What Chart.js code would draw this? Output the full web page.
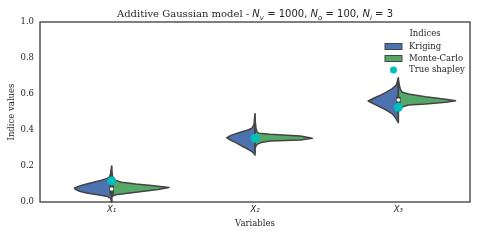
<!DOCTYPE html>
<html>
<head>
<meta charset="utf-8">
<script src="https://cdn.jsdelivr.net/npm/chart.js"></script>
<style>
  html, body { margin: 0; padding: 0; background: #fff; }
</style>
</head>
<body>
<canvas id="myChart" width="480" height="240"></canvas>
<script>
var variables = ['X₁', 'X₂', 'X₃'];
var trueShapley = [0.117, 0.354, 0.526];

// Kriging half violins (left side): index levels and density at each level
var krigingLevels = [
  [0.0, 0.02, 0.03, 0.04, 0.05, 0.06, 0.07, 0.078, 0.09, 0.10, 0.11, 0.12, 0.13, 0.14, 0.16, 0.2],
  [0.26, 0.27, 0.28, 0.29, 0.30, 0.31, 0.32, 0.33, 0.34, 0.35, 0.357, 0.37, 0.38, 0.39, 0.40, 0.41, 0.43, 0.49],
  [0.44, 0.45, 0.47, 0.49, 0.51, 0.53, 0.55, 0.561, 0.575, 0.59, 0.61, 0.63, 0.65, 0.67, 0.69]
];
var krigingDensity = [
  [0, 1, 4, 14, 25, 32, 36, 37, 31, 25, 18, 11, 5, 2, 1, 0],
  [0, 1, 3, 6, 9, 13, 16, 19, 23, 26, 28, 24, 19, 13, 7, 3, 1, 0],
  [0, 1, 3, 6, 12, 19, 26, 30, 25, 19, 12, 6, 2, 1, 0]
];

// Monte-Carlo half violins (right side)
var mcLevels = [
  [0.03, 0.04, 0.05, 0.06, 0.07, 0.081, 0.09, 0.10, 0.11, 0.12, 0.14, 0.17],
  [0.30, 0.31, 0.32, 0.33, 0.339, 0.342, 0.345, 0.354, 0.367, 0.376, 0.382, 0.39, 0.41, 0.46],
  [0.50, 0.515, 0.526, 0.539, 0.544, 0.554, 0.563, 0.571, 0.585, 0.60, 0.61, 0.625, 0.65, 0.68]
];
var mcDensity = [
  [0, 4, 18, 32, 46, 57, 42, 24, 10, 4, 1, 0],
  [0, 1, 2, 6, 15, 30, 45, 57, 45, 15, 4, 2, 1, 0],
  [0, 1, 3, 10, 27, 47, 57, 47, 27, 10, 4, 2, 1, 0]
];

// inner box
var whiskerLow = [0.0, 0.27, 0.446];
var whiskerHigh = [0.2, 0.49, 0.687];
var boxQ1 = [0.04, 0.34, 0.54];
var boxQ3 = [0.095, 0.372, 0.585];
var medians = [0.072, 0.355, 0.567];

var yTicks = [0, 0.2, 0.4, 0.6, 0.8, 1.0];

var blue = '#4C72B0', green = '#55A868', lineGray = '#444444', cyan = '#00BFBF', textCol = '#262626';

function halfViolin(ctx, xs, ys, i, levels, dens, side, color, maxD) {
  ctx.beginPath();
  ctx.moveTo(xs.getPixelForValue(i), ys.getPixelForValue(levels[0]));
  for (var k = 0; k < levels.length; k++) {
    ctx.lineTo(xs.getPixelForValue(i + side * dens[k] / maxD * 0.4), ys.getPixelForValue(levels[k]));
  }
  ctx.lineTo(xs.getPixelForValue(i), ys.getPixelForValue(levels[levels.length - 1]));
  ctx.closePath();
  ctx.fillStyle = color;
  ctx.fill();
  ctx.stroke();
}

var violinPlugin = {
  id: 'violins',
  beforeDatasetsDraw: function (chart) {
    var ctx = chart.ctx, xs = chart.scales.x, ys = chart.scales.y;
    var maxD = 0;
    krigingDensity.concat(mcDensity).forEach(function (a) { a.forEach(function (d) { if (d > maxD) maxD = d; }); });
    ctx.save();
    ctx.lineJoin = 'round';
    ctx.strokeStyle = lineGray;
    ctx.lineWidth = 1.5;
    for (var i = 0; i < variables.length; i++) {
      halfViolin(ctx, xs, ys, i, krigingLevels[i], krigingDensity[i], -1, blue, maxD);
      halfViolin(ctx, xs, ys, i, mcLevels[i], mcDensity[i], 1, green, maxD);
      var cx = xs.getPixelForValue(i);
      ctx.beginPath();
      ctx.lineWidth = 1.5;
      ctx.moveTo(cx, ys.getPixelForValue(whiskerLow[i]));
      ctx.lineTo(cx, ys.getPixelForValue(whiskerHigh[i]));
      ctx.stroke();
      ctx.beginPath();
      ctx.lineWidth = 4.5;
      ctx.moveTo(cx, ys.getPixelForValue(boxQ1[i]));
      ctx.lineTo(cx, ys.getPixelForValue(boxQ3[i]));
      ctx.stroke();
      ctx.beginPath();
      ctx.fillStyle = '#ffffff';
      ctx.arc(cx, ys.getPixelForValue(medians[i]), 1.8, 0, Math.PI * 2);
      ctx.fill();
      ctx.lineWidth = 1.5;
    }
    ctx.restore();
  },
  afterDraw: function (chart) {
    var ctx = chart.ctx, a = chart.chartArea;
    ctx.save();
    // frame
    ctx.strokeStyle = '#333333';
    ctx.lineWidth = 1.25;
    ctx.strokeRect(a.left, a.top, a.right - a.left, a.bottom - a.top);

    // title with subscripts
    var parts = [
      ['Additive Gaussian model - ', 'serif'], ['N', 'it'], ['v', 'sub'], [' = 1000, ', 'math'],
      ['N', 'it'], ['o', 'sub'], [' = 100, ', 'math'], ['N', 'it'], ['i', 'sub'], [' = 3', 'math']
    ];
    var fonts = {
      serif: '10px "DejaVu Serif"',
      it: 'italic 10px "DejaVu Sans"',
      sub: 'italic 7px "DejaVu Sans"',
      math: '10px "DejaVu Sans"'
    };
    var total = 0;
    parts.forEach(function (p) { ctx.font = fonts[p[1]]; total += ctx.measureText(p[0]).width; });
    var x = (a.left + a.right) / 2 - total / 2, base = 17;
    ctx.fillStyle = textCol;
    ctx.textBaseline = 'alphabetic';
    ctx.textAlign = 'left';
    parts.forEach(function (p) {
      ctx.font = fonts[p[1]];
      ctx.fillText(p[0], x, p[1] === 'sub' ? base + 2.5 : base);
      x += ctx.measureText(p[0]).width;
    });

    // legend
    var lx = a.right - 85;
    ctx.font = '8.5px "DejaVu Serif"';
    ctx.textBaseline = 'middle';
    ctx.textAlign = 'center';
    ctx.fillText('Indices', lx + 40, 34);
    ctx.textAlign = 'left';
    var items = [['Kriging', blue, 46.5], ['Monte-Carlo', green, 58.5]];
    items.forEach(function (it) {
      ctx.fillStyle = it[1];
      ctx.fillRect(lx, it[2] - 3, 17, 6);
      ctx.strokeStyle = lineGray;
      ctx.lineWidth = 1;
      ctx.strokeRect(lx, it[2] - 3, 17, 6);
      ctx.fillStyle = textCol;
      ctx.fillText(it[0], lx + 24, it[2]);
    });
    ctx.beginPath();
    ctx.fillStyle = cyan;
    ctx.arc(lx + 8.5, 70, 3.5, 0, Math.PI * 2);
    ctx.fill();
    ctx.fillStyle = textCol;
    ctx.fillText('True shapley', lx + 24, 70);
    ctx.restore();
  }
};

var myChart = new Chart('myChart', {
  data: {
    labels: variables,
    datasets: [{
      type: 'line',
      label: 'True shapley',
      data: trueShapley,
      showLine: false,
      pointRadius: 4.5,
      pointHoverRadius: 4.5,
      pointBorderWidth: 0,
      pointBackgroundColor: cyan,
      borderColor: cyan
    }]
  },
  options: {
    responsive: false,
    animation: false,
    layout: { padding: { top: 22, right: 10, left: 0, bottom: 0 } },
    plugins: { legend: { display: false }, tooltip: { enabled: false } },
    scales: {
      x: {
        type: 'category',
        offset: true,
        grid: { display: false, drawTicks: false },
        border: { display: false },
        ticks: { color: textCol, padding: 3, font: { family: 'DejaVu Sans', style: 'italic', size: 8.5 } },
        title: { display: true, text: 'Variables', color: textCol, padding: { top: 0, bottom: 11 }, font: { family: 'DejaVu Serif', size: 8.5 } },
        afterFit: function (s) { s.height = 38; }
      },
      y: {
        min: 0,
        max: 1,
        grid: { display: false, drawTicks: false },
        border: { display: false },
        afterBuildTicks: function (s) { s.ticks = yTicks.map(function (v) { return { value: v }; }); },
        ticks: { color: textCol, padding: 6, font: { family: 'DejaVu Serif', size: 8.5 }, callback: function (v) { return v.toFixed(1); } },
        title: { display: true, text: 'Indice values', color: textCol, padding: { top: 7, bottom: 0 }, font: { family: 'DejaVu Serif', size: 8.5 } },
        afterFit: function (s) { s.width = 40; }
      }
    }
  },
  plugins: [violinPlugin]
});
</script>
</body>
</html>
